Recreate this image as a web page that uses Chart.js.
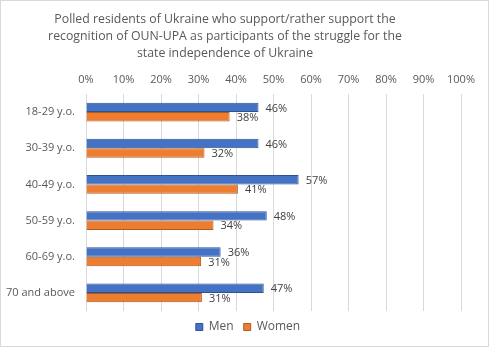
<!DOCTYPE html>
<html>
<head>
<meta charset="utf-8">
<script src="https://cdn.jsdelivr.net/npm/chart.js@4/dist/chart.umd.min.js"></script>
<style>
  html, body { margin: 0; padding: 0; background: #fff; }
  #box { position: absolute; left: 0; top: 0; width: 489px; height: 347px; box-sizing: border-box; border: 1px solid #d9d9d9; background: #fff; }
  canvas { display: block; }
</style>
</head>
<body>
<div id="box"><canvas id="c" width="487" height="345"></canvas></div>
<script>
const titleLines = [
  "Polled residents of Ukraine who support/rather support the",
  "recognition of OUN-UPA as participants of the struggle for the",
  "state independence of Ukraine"
];
const categories = ["18-29 y.o.", "30-39 y.o.", "40-49 y.o.", "50-59 y.o.", "60-69 y.o.", "70 and above"];
const menValues = [46.0, 46.0, 56.7, 48.2, 35.9, 47.4];
const womenValues = [38.3, 31.6, 40.5, 34.0, 30.7, 30.9];
const seriesNames = ["Men", "Women"];
const tickValues = [0, 10, 20, 30, 40, 50, 60, 70, 80, 90, 100];

const FONT = "'Open Sans', 'Liberation Sans', sans-serif";

const titlePlugin = {
  id: 'manualTitle',
  afterDraw(chart) {
    const ctx = chart.ctx;
    ctx.save();
    ctx.font = "12.3px " + FONT;
    ctx.fillStyle = "#595959";
    ctx.textAlign = "center";
    ctx.textBaseline = "middle";
    titleLines.forEach((t, i) => ctx.fillText(t, 224, 18 + i * 17));
    ctx.restore();
  }
};

const legendShift = {
  id: 'legendShift',
  afterLayout(chart) {
    if (chart.legend) { chart.legend.left += 17; chart.legend.right += 17; }
  }
};

const valueLabels = {
  id: 'valueLabels',
  afterDatasetsDraw(chart) {
    const ctx = chart.ctx;
    ctx.save();
    ctx.font = "11px " + FONT;
    ctx.fillStyle = "#404040";
    ctx.textAlign = "left";
    ctx.textBaseline = "middle";
    chart.data.datasets.forEach((ds, di) => {
      const meta = chart.getDatasetMeta(di);
      meta.data.forEach((el, i) => {
        ctx.fillText(Math.round(ds.data[i]) + "%", el.x + 7, el.y + 1);
      });
    });
    ctx.restore();
  }
};

new Chart(document.getElementById('c'), {
  type: 'bar',
  data: {
    labels: categories,
    datasets: [
      { label: seriesNames[0], data: menValues, backgroundColor: '#4472C4', borderColor: '#2F528F', borderWidth: 1,
        barPercentage: 1.0, categoryPercentage: 0.52 },
      { label: seriesNames[1], data: womenValues, backgroundColor: '#ED7D31', borderColor: '#AE5A21', borderWidth: 1,
        barPercentage: 1.0, categoryPercentage: 0.52 }
    ]
  },
  options: {
    indexAxis: 'y',
    responsive: false,
    animation: false,
    devicePixelRatio: 1,
    layout: { padding: { top: 62, right: 27, left: 0, bottom: 3 } },
    plugins: {
      title: { display: false },
      tooltip: { enabled: false },
      legend: {
        position: 'bottom',
        labels: {
          boxWidth: 7, boxHeight: 7, padding: 10,
          color: '#595959',
          font: { family: FONT, size: 12 }
        }
      }
    },
    scales: {
      x: {
        position: 'top',
        min: 0, max: 100,
        afterBuildTicks(scale) { scale.ticks = tickValues.map(v => ({ value: v })); },
        afterFit(scale) { scale.height = 31; },
        ticks: {
          color: '#595959',
          font: { family: FONT, size: 11 },
          padding: 8,
          callback: v => v + '%'
        },
        grid: { color: '#d9d9d9', drawTicks: false, lineWidth: 1 },
        border: { display: false }
      },
      y: {
        afterFit(scale) { scale.width = 85; },
        ticks: {
          color: '#595959',
          font: { family: FONT, size: 11 },
          padding: 11
        },
        grid: { display: false, drawTicks: false },
        border: { display: false }
      }
    }
  },
  plugins: [titlePlugin, valueLabels, legendShift]
});
</script>
</body>
</html>
